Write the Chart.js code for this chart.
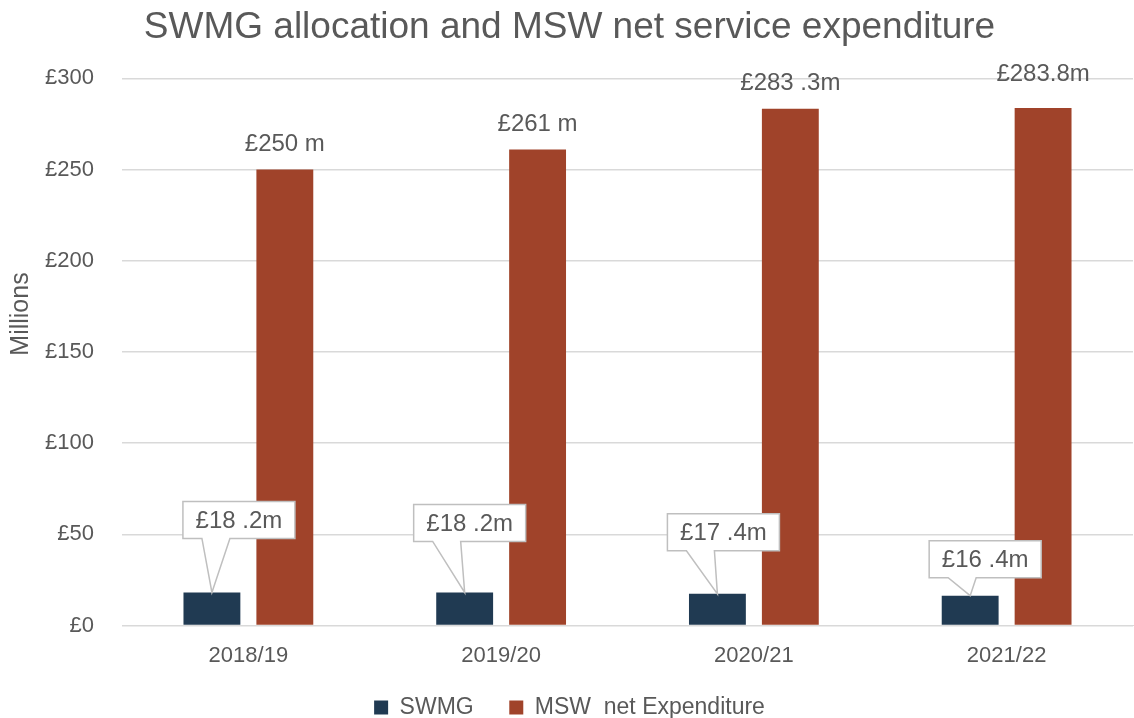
<!DOCTYPE html>
<html>
<head>
<meta charset="utf-8">
<script src="https://cdn.jsdelivr.net/npm/chart.js@4/dist/chart.umd.min.js"></script>
<style>
  html, body { margin: 0; padding: 0; background: #fff; }
  #wrap { width: 1134px; height: 718px; }
</style>
</head>
<body>
<div id="wrap"><canvas id="chart" width="1134" height="718"></canvas></div>
<script>
const years = ['2018/19', '2019/20', '2020/21', '2021/22'];
const swmg = [18.2, 18.2, 17.4, 16.4];
const msw = [250, 261, 283.3, 283.8];
const swmgLabels = ['£18 .2m', '£18 .2m', '£17 .4m', '£16 .4m'];
const mswLabels = ['£250 m', '£261 m', '£283 .3m', '£283.8m'];

const textColor = '#595959';
const fontFamily = '"Liberation Sans", Arial, sans-serif';

// callout boxes sit at slightly different spots in the original
const calloutShift = [[27, -91], [5, -88], [6, -80], [15, -55]];
const labelLift = [25, 25, 25, 34];

const labelPlugin = {
    id: 'barLabels',
    afterDatasetsDraw(chart) {
        const ctx = chart.ctx;
        ctx.save();
        ctx.font = '24px ' + fontFamily;
        ctx.fillStyle = textColor;
        ctx.textAlign = 'center';
        ctx.textBaseline = 'middle';

        // MSW labels above the bars
        chart.getDatasetMeta(1).data.forEach((bar, i) => {
            ctx.fillText(mswLabels[i], bar.x, bar.y - labelLift[i]);
        });

        // SWMG callouts
        chart.getDatasetMeta(0).data.forEach((bar, i) => {
            const w = 112, h = 37;
            const cx = bar.x + calloutShift[i][0];
            const top = bar.y + calloutShift[i][1];
            const left = cx - w / 2;
            ctx.beginPath();
            ctx.moveTo(left, top);
            ctx.lineTo(left + w, top);
            ctx.lineTo(left + w, top + h);
            ctx.lineTo(left + 47, top + h);
            ctx.lineTo(bar.x, bar.y);
            ctx.lineTo(left + 19, top + h);
            ctx.lineTo(left, top + h);
            ctx.closePath();
            ctx.fillStyle = '#fff';
            ctx.fill();
            ctx.strokeStyle = '#bfbfbf';
            ctx.lineWidth = 1.5;
            ctx.stroke();
            ctx.fillStyle = textColor;
            ctx.fillText(swmgLabels[i], cx, top + h / 2 + 1);
        });

        // axis title sits above the middle of the axis in the original
        ctx.translate(21, 314);
        ctx.rotate(-Math.PI / 2);
        ctx.font = '25px ' + fontFamily;
        ctx.fillText('Millions', 0, 0);
        ctx.restore();
    }
};

new Chart(document.getElementById('chart'), {
    type: 'bar',
    data: {
        labels: years,
        datasets: [
            { label: 'SWMG', data: swmg, backgroundColor: '#203a52' },
            { label: 'MSW  net Expenditure', data: msw, backgroundColor: '#a0432a' }
        ]
    },
    options: {
        responsive: false,
        animation: false,
        categoryPercentage: 0.577,
        barPercentage: 0.78,
        layout: { padding: { left: 6, right: 1, top: 3, bottom: -11 } },
        plugins: {
            title: {
                display: true,
                text: 'SWMG allocation and MSW net service expenditure',
                color: textColor,
                font: { family: fontFamily, size: 37, weight: 'normal' },
                padding: { top: 3, bottom: 28 }
            },
            legend: {
                position: 'bottom',
                labels: {
                    color: textColor,
                    font: { family: fontFamily, size: 23 },
                    boxWidth: 14,
                    boxHeight: 14,
                    padding: 10,
                    // wider gap between the two items than the padding gives
                    generateLabels(chart) {
                        const items = Chart.defaults.plugins.legend.labels.generateLabels(chart);
                        items[0].text = items[0].text + '    ';
                        return items;
                    }
                }
            },
            tooltip: { enabled: false }
        },
        scales: {
            x: {
                grid: { display: false, drawTicks: false },
                border: { display: true, color: '#d9d9d9' },
                ticks: { color: textColor, font: { family: fontFamily, size: 22 }, padding: 17 }
            },
            y: {
                min: 0,
                max: 300,
                afterFit(axis) { axis.width = 116; },
                grid: { color: '#d9d9d9', lineWidth: 1.5, drawTicks: false },
                border: { display: false },
                ticks: {
                    stepSize: 50,
                    color: textColor,
                    font: { family: fontFamily, size: 22 },
                    padding: 28,
                    callback: v => '£' + v
                }
            }
        }
    },
    plugins: [labelPlugin]
});
</script>
</body>
</html>
